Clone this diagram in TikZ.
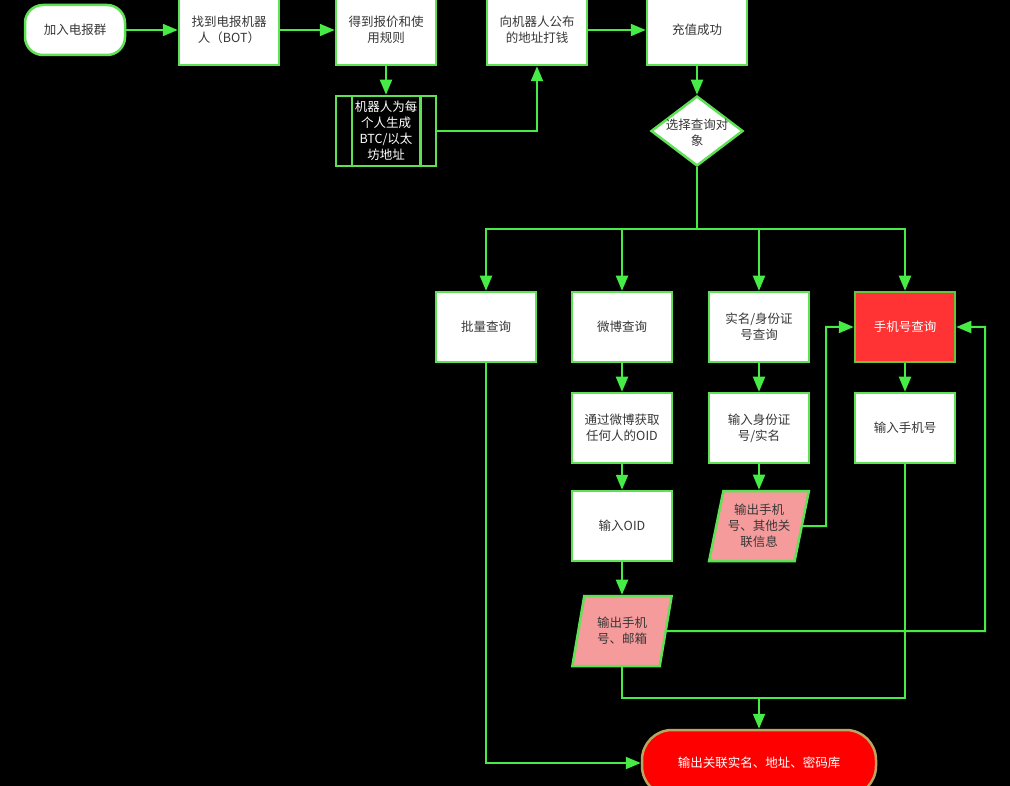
\documentclass[tikz,border=0pt]{standalone}
\usepackage{fontspec}
\setmainfont{Noto Sans CJK SC}
\usetikzlibrary{shapes.geometric,arrows.meta}

\definecolor{boxgreen}{RGB}{95,225,85}
\definecolor{linegreen}{RGB}{70,235,70}
\definecolor{txtgray}{RGB}{55,55,55}
\definecolor{pinkfill}{RGB}{245,155,155}
\definecolor{phonered}{RGB}{255,51,51}
\definecolor{endred}{RGB}{255,0,0}
\definecolor{endborder}{RGB}{185,165,95}

\begin{document}
\begin{tikzpicture}[x=1pt,y=-1pt,
  every node/.style={font=\fontsize{12.5}{16}\selectfont, text=txtgray, align=center},
  proc/.style={draw=boxgreen, line width=2.5pt, fill=white, minimum width=100pt, minimum height=70pt, inner sep=2pt},
  io/.style={trapezium, trapezium left angle=74, trapezium right angle=106, trapezium stretches=true,
    draw=boxgreen, line width=2.5pt, fill=pinkfill, minimum width=100pt, minimum height=70pt, inner sep=0pt},
  line/.style={draw=linegreen, line width=2pt},
  flow/.style={line, -{Triangle[length=15pt,width=12pt]}, fill=none}
]
%background
\fill[black] (0,0) rectangle (1010,786);
\useasboundingbox (0,0) rectangle (1010,786);

%top row
\node[proc, rounded corners=18pt, minimum height=50pt] (join) at (75,30) {加入电报群};
\node[proc] (bot) at (229,30) {找到电报机器\\人（BOT）};
\node[proc] (quote) at (386,30) {得到报价和使\\用规则};
\node[proc] (pay) at (537,30) {向机器人公布\\的地址打钱};
\node[proc] (done) at (697,30) {充值成功};
\node[draw=boxgreen, line width=2.5pt, minimum width=100pt, minimum height=70pt, inner sep=0pt, text=white] (addr) at (386,131) {机器人为每\\个人生成\\BTC/以太\\坊地址};
\draw[draw=boxgreen, line width=2.5pt] ([xshift=17pt]addr.north west) -- ([xshift=17pt]addr.south west);
\draw[draw=boxgreen, line width=2.5pt] ([xshift=-17pt]addr.north east) -- ([xshift=-17pt]addr.south east);
\node[diamond, draw=boxgreen, line width=2.5pt, fill=white, minimum width=92pt, minimum height=70pt, inner sep=0pt] (choose) at (697,131)
  {\makebox[0pt]{\smash{\raisebox{-6pt}{\begin{tabular}{@{}c@{}}选择查询对\\象\end{tabular}}}}};

%query row
\node[proc] (batch) at (486,327) {批量查询};
\node[proc] (weibo) at (622,327) {微博查询};
\node[proc] (ident) at (759,327) {实名/身份证\\号查询};
\node[proc, fill=phonered, draw=boxgreen!70!olive, text=white] (phone) at (905,327) {手机号查询};

%inputs
\node[proc] (oidget) at (622,428) {通过微博获取\\任何人的OID};
\node[proc] (idin) at (759,428) {输入身份证\\号/实名};
\node[proc] (phonein) at (905,428) {输入手机号};
\node[proc] (oidin) at (622,526) {输入OID};
\node[io] (other) at (759,526) {输出手机\\号、其他关\\联信息};
\node[io] (mail) at (622,631) {输出手机\\号、邮箱};
\node[proc, rounded corners=30pt, minimum width=234pt, minimum height=66pt, fill=endred, draw=endborder, text=white] (result) at (759,763) {输出关联实名、地址、密码库};

%connectors
\coordinate (split) at (697,229);
\coordinate (merge) at (759,698);
\coordinate (loopL) at (826,526);
\coordinate (loopR) at (985,631);
\draw[flow] (join) -- (bot);
\draw[flow] (bot) -- (quote);
\draw[flow] (quote) -- (addr);
\draw[flow] (addr.east) -| (pay.south);
\draw[flow] (pay) -- (done);
\draw[flow] (done) -- (choose);
\foreach \n in {batch,weibo,ident,phone}{
\draw[flow] (choose.south) -- (split) -| (\n.north);
}
\draw[flow] (weibo) -- (oidget);
\draw[flow] (oidget) -- (oidin);
\draw[flow] (oidin) -- (mail);
\draw[flow] (ident) -- (idin);
\draw[flow] (idin) -- (other);
\draw[flow] (phone) -- (phonein);
\draw[flow] (batch.south) |- (result.west);
\draw[line] (mail.south) |- (merge) -| (phonein.south);
\draw[flow] (merge) -- (result.north);
\draw[flow] (other.east) -- (loopL) |- (phone.west);
\draw[flow] (mail.east) -- (loopR) |- (phone.east);
\end{tikzpicture}
\end{document}
